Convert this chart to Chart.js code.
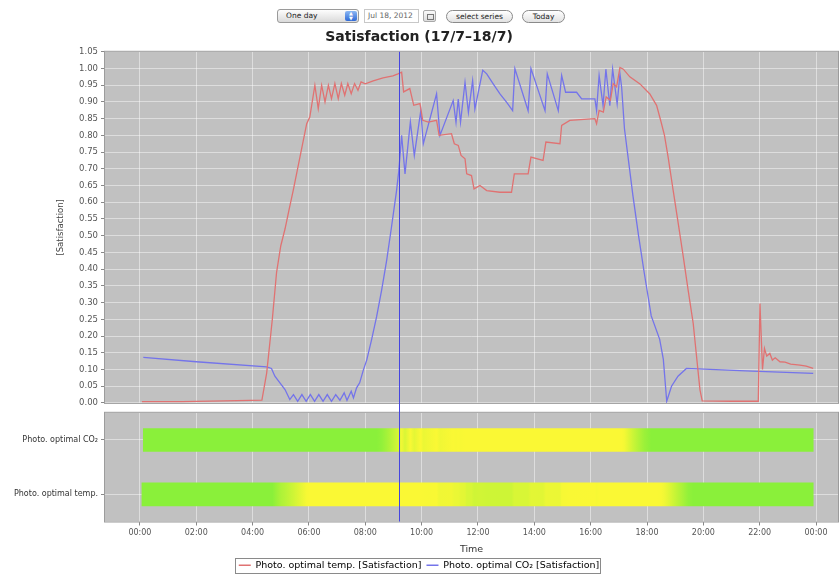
<!DOCTYPE html>
<html>
<head>
<meta charset="utf-8">
<script src="https://cdn.jsdelivr.net/npm/chart.js@4.4.0/dist/chart.umd.min.js"></script>
<style>
  body { margin: 0; width: 839px; height: 575px; overflow: hidden; position: relative; background: #fff; font-family: "DejaVu Sans", sans-serif; }
  .ctl { position: absolute; top: 9px; height: 14px; box-sizing: border-box; font-size: 7.5px; line-height: 12px; color: #222; }
  .sel { left: 277px; width: 82px; border: 1px solid #9a9a9a; border-radius: 3px; background: linear-gradient(#fdfdfd, #dadada); padding-left: 8px; }
  .sel .arr { position: absolute; right: 1px; top: 1px; width: 12px; height: 10px; border-radius: 2px; background: linear-gradient(#8cb8f4, #2f6ad6); color: #fff; font-size: 5px; line-height: 5px; text-align: center; }
  .date { left: 364px; width: 55px; border: 1px solid #c8c8c8; color: #666; padding-left: 3px; }
  .cal { left: 423px; width: 13px; top: 10px; height: 12px; border: 1px solid #a8a8a8; border-radius: 2px; background: linear-gradient(#fafafa, #dcdcdc); }
  .cal i { position: absolute; left: 3px; top: 3px; width: 5px; height: 4px; border: 1px solid #777; }
  .pill { border: 1px solid #8a8a8a; border-radius: 7px; background: linear-gradient(#ffffff, #e2e2e2); text-align: center; top: 10px; height: 13px; }
  #top { position: absolute; left: 0; top: 26px; }
  #bottom { position: absolute; left: 0; top: 405px; }
</style>
</head>
<body>
<div class="ctl sel">One day<span class="arr">▲<br>▼</span></div>
<div class="ctl date">Jul 18, 2012</div>
<div class="ctl cal"><i></i></div>
<div class="ctl pill" style="left:446px;width:67px">select series</div>
<div class="ctl pill" style="left:522px;width:43px">Today</div>
<canvas id="top" width="839" height="385"></canvas>
<canvas id="bottom" width="839" height="175"></canvas>
<script>
// ---------- data (hours of the day / satisfaction 0..1) ----------
var tempTimes = [0.07, 1.5, 3.0, 4.33, 4.5, 4.7, 4.85, 5.0, 5.15, 5.3, 5.44, 5.68, 5.92, 6.03,
  6.21, 6.33, 6.45, 6.57, 6.69, 6.8, 6.92, 7.04, 7.15, 7.27, 7.38, 7.5, 7.62, 7.74, 7.85,
  8.0, 8.28, 8.63, 8.98, 9.16, 9.29, 9.36, 9.58, 9.72, 9.94, 10.04, 10.24, 10.53, 10.62,
  11.06, 11.16, 11.3, 11.4, 11.54, 11.6, 11.77, 11.86, 12.07, 12.31, 12.78, 13.19, 13.29,
  13.78, 13.88, 14.31, 14.41, 14.91, 14.97, 15.26, 16.15, 16.21, 16.3, 16.45, 16.55, 16.7,
  16.8, 16.92, 17.04, 17.16, 17.39, 17.75, 18.1, 18.34, 18.5, 18.62, 18.75, 18.93, 19.11,
  19.29, 19.46, 19.64, 19.76, 19.88, 19.96, 21.0, 21.95, 22.01, 22.1, 22.17, 22.25, 22.36,
  22.45, 22.55, 22.72, 22.9, 23.1, 23.43, 23.65, 23.9];
var tempValues = [0.004, 0.004, 0.006, 0.008, 0.09, 0.25, 0.39, 0.47, 0.52, 0.58, 0.635, 0.735, 0.835, 0.855,
  0.95, 0.88, 0.95, 0.90, 0.95, 0.91, 0.955, 0.91, 0.955, 0.92, 0.955, 0.925, 0.955, 0.935, 0.96,
  0.954, 0.963, 0.972, 0.978, 0.984, 0.989, 0.93, 0.94, 0.89, 0.895, 0.845, 0.84, 0.845, 0.80,
  0.805, 0.775, 0.77, 0.74, 0.73, 0.685, 0.68, 0.64, 0.65, 0.635, 0.63, 0.63, 0.685,
  0.685, 0.735, 0.725, 0.78, 0.775, 0.83, 0.845, 0.85, 0.835, 0.875, 0.87, 0.915, 0.905,
  0.955, 0.945, 1.003, 0.998, 0.975, 0.954, 0.924, 0.89, 0.84, 0.80, 0.735, 0.635, 0.536,
  0.436, 0.337, 0.238, 0.138, 0.039, 0.006, 0.005, 0.005, 0.297, 0.10, 0.163, 0.14, 0.148,
  0.128, 0.135, 0.123, 0.122, 0.116, 0.113, 0.11, 0.103];

var co2Times = [0.12, 2.0, 4.5, 4.67, 4.79, 4.97, 5.15, 5.32, 5.45, 5.6, 5.75, 5.9, 6.05, 6.2,
  6.35, 6.5, 6.65, 6.8, 6.95, 7.1, 7.25, 7.35, 7.5, 7.58, 7.69, 7.8, 7.93, 8.05, 8.22, 8.4,
  8.58, 8.76, 8.93, 9.11, 9.19, 9.29, 9.41, 9.6, 9.74, 9.97, 10.06, 10.53, 10.65, 11.12,
  11.22, 11.3, 11.38, 11.54, 11.66, 11.81, 11.89, 12.17, 12.31, 12.54, 12.78, 13.02, 13.23,
  13.31, 13.78, 13.88, 14.38, 14.46, 14.85, 14.97, 15.11, 15.5, 15.68, 16.15, 16.21, 16.3,
  16.44, 16.54, 16.68, 16.78, 16.94, 17.04, 17.1, 17.2, 17.35, 17.5, 17.7, 17.9, 18.15,
  18.45, 18.58, 18.7, 18.87, 19.1, 19.4, 21.5, 23.9];
var co2Values = [0.136, 0.123, 0.108, 0.103, 0.08, 0.06, 0.04, 0.01, 0.025, 0.005, 0.025, 0.005, 0.025, 0.005,
  0.025, 0.005, 0.025, 0.005, 0.025, 0.008, 0.03, 0.008, 0.035, 0.015, 0.045, 0.06, 0.098, 0.128, 0.188, 0.257,
  0.337, 0.427, 0.526, 0.635, 0.695, 0.80, 0.685, 0.84, 0.74, 0.874, 0.775, 0.924, 0.80, 0.904,
  0.839, 0.909, 0.839, 0.959, 0.869, 0.964, 0.879, 0.995, 0.984, 0.954, 0.924, 0.899, 0.874,
  1.0, 0.874, 1.0, 0.874, 0.984, 0.874, 0.979, 0.929, 0.929, 0.909, 0.909, 0.874, 0.979,
  0.889, 0.998, 0.889, 0.998, 0.894, 0.984, 0.944, 0.82, 0.72, 0.62, 0.50, 0.39, 0.26,
  0.19, 0.13, 0.005, 0.05, 0.08, 0.103, 0.096, 0.088];

var tempLabel = 'Photo. optimal temp. [Satisfaction]';
var co2Label = 'Photo. optimal CO\u2082 [Satisfaction]';
var rowLabels = ['Photo. optimal CO\u2082', 'Photo. optimal temp.'];

var hourTicks = [0, 2, 4, 6, 8, 10, 12, 14, 16, 18, 20, 22, 24];
var hourLabels = ['00:00', '02:00', '04:00', '06:00', '08:00', '10:00', '12:00', '14:00', '16:00', '18:00', '20:00', '22:00', '00:00'];
var satTicks = [0, 0.05, 0.1, 0.15, 0.2, 0.25, 0.3, 0.35, 0.4, 0.45, 0.5, 0.55, 0.6, 0.65, 0.7, 0.75, 0.8, 0.85, 0.9, 0.95, 1.0, 1.05];
var markerHour = 9.2;

// ---------- look ----------
var xMin = -1.24, xMax = 24.78;
var redLine = '#e07272', blueLine = '#7474ea', markerColor = '#4646e0';
var panelBg = '#c1c1c1', gridCol = 'rgba(255,255,255,0.45)', frameCol = '#9c9c9c';
var green = [138, 240, 58], yellow = [250, 248, 52];

Chart.defaults.font.family = "'DejaVu Sans', sans-serif";
Chart.defaults.animation = false;

function toPoints(ts, vs) { return ts.map(function (t, i) { return { x: t, y: vs[i] }; }); }

function satColor(v) {
  var f = Math.max(0, Math.min(1, (v - 0.3) / 0.55));
  var c = green.map(function (g, i) { return Math.round(g + (yellow[i] - g) * f); });
  return 'rgb(' + c.join(',') + ')';
}

var panel = {
  id: 'panel',
  beforeDraw: function (chart) {
    var a = chart.chartArea, c = chart.ctx;
    c.save(); c.fillStyle = panelBg; c.fillRect(a.left, a.top, a.width, a.height); c.restore();
  },
  afterDraw: function (chart, args, opts) {
    var a = chart.chartArea, c = chart.ctx;
    c.save();
    c.strokeStyle = frameCol; c.lineWidth = 1;
    c.strokeRect(a.left - 0.5, a.top - 0.5, a.width + 1, a.height + 1);
    var x = Math.round(chart.scales.x.getPixelForValue(markerHour)) + 0.5;
    c.strokeStyle = markerColor;
    c.beginPath();
    c.moveTo(x, opts.fromTop ? a.top : 0);
    c.lineTo(x, opts.fromTop ? chart.height : a.bottom);
    c.stroke();
    c.restore();
  }
};

function hourAxis(showLabels) {
  return {
    type: 'linear', min: xMin, max: xMax,
    afterBuildTicks: function (s) { s.ticks = hourTicks.map(function (v) { return { value: v }; }); },
    ticks: {
      display: showLabels, maxRotation: 0, autoSkip: false, padding: 3,
      color: '#555', font: { size: 8 },
      callback: function (v, i) { return hourLabels[i]; }
    },
    grid: { color: gridCol, drawTicks: showLabels, tickLength: 4, tickColor: '#888' },
    border: { display: false },
    title: { display: showLabels, text: 'Time', color: '#333', font: { size: 9.5 }, padding: { top: 3, bottom: 0 } }
  };
}

// ---------- top panel: satisfaction lines ----------
new Chart(document.getElementById('top'), {
  type: 'line',
  data: {
    datasets: [
      { label: tempLabel, data: toPoints(tempTimes, tempValues), borderColor: redLine, borderWidth: 1.3, pointRadius: 0, tension: 0 },
      { label: co2Label, data: toPoints(co2Times, co2Values), borderColor: blueLine, borderWidth: 1.3, pointRadius: 0, tension: 0 }
    ]
  },
  options: {
    responsive: false,
    layout: { padding: { left: 0, right: 1, top: 0, bottom: 5 } },
    scales: {
      x: hourAxis(false),
      y: {
        min: 0, max: 1.05,
        afterBuildTicks: function (s) { s.ticks = satTicks.map(function (v) { return { value: v }; }); },
        afterFit: function (s) { s.width = 105; },
        ticks: { color: '#555', font: { size: 8.5 }, padding: 3, callback: function (v) { return v.toFixed(2); } },
        grid: { color: gridCol, tickLength: 4, tickColor: '#888' },
        border: { display: false },
        title: { display: true, text: '[Satisfaction]', color: '#444', font: { size: 8.5 }, padding: { top: 56, bottom: 0 } }
      }
    },
    plugins: {
      legend: { display: false },
      tooltip: { enabled: false },
      title: { display: true, text: 'Satisfaction (17/7\u201318/7)', color: '#222', font: { size: 14, weight: 'bold' }, padding: { top: 3, bottom: 6 } },
      panel: { fromTop: true }
    }
  },
  plugins: [panel]
});

// ---------- bottom panel: colour strips ----------
function stripGradient(context) {
  var chart = context.chart, area = chart.chartArea;
  if (!area) return satColor(0);
  var ts = context.dataIndex === 0 ? co2Times : tempTimes;
  var vs = context.dataIndex === 0 ? co2Values : tempValues;
  var sx = chart.scales.x;
  var x0 = sx.getPixelForValue(ts[0]), x1 = sx.getPixelForValue(ts[ts.length - 1]);
  var g = chart.ctx.createLinearGradient(x0, 0, x1, 0);
  ts.forEach(function (t, i) {
    var off = (sx.getPixelForValue(t) - x0) / (x1 - x0);
    g.addColorStop(Math.max(0, Math.min(1, off)), satColor(vs[i]));
  });
  return g;
}

var legendBox = {
  id: 'legendBox',
  afterDraw: function (chart) {
    var hb = chart.legend && chart.legend.legendHitBoxes;
    if (!hb || !hb.length) return;
    var l = Math.min.apply(null, hb.map(function (h) { return h.left; })) - 4;
    var r = Math.max.apply(null, hb.map(function (h) { return h.left + h.width; })) + 1;
    var t = hb[0].top - 3, b = hb[0].top + hb[0].height + 2;
    var c = chart.ctx;
    c.save(); c.strokeStyle = '#8a8a8a'; c.lineWidth = 1;
    c.strokeRect(Math.round(l) + 0.5, Math.round(t) + 0.5, Math.round(r - l), Math.round(b - t));
    c.restore();
  }
};

new Chart(document.getElementById('bottom'), {
  type: 'bar',
  data: {
    labels: rowLabels,
    datasets: [{
      label: 'strip',
      data: [[co2Times[0], co2Times[co2Times.length - 1]], [tempTimes[0], tempTimes[tempTimes.length - 1]]],
      backgroundColor: stripGradient,
      borderWidth: 0,
      barThickness: 23
    }]
  },
  options: {
    responsive: false,
    indexAxis: 'y',
    layout: { padding: { left: 0, right: 1, top: 4, bottom: 0 } },
    scales: {
      x: hourAxis(true),
      y: {
        type: 'category', offset: true,
        afterFit: function (s) { s.width = 105; },
        ticks: { color: '#333', font: { size: 8 }, padding: 3 },
        grid: { offset: false, color: gridCol, tickLength: 4, tickColor: '#888' },
        border: { display: false }
      }
    },
    plugins: {
      legend: {
        position: 'bottom',
        onClick: null,
        labels: {
          usePointStyle: true, pointStyleWidth: 12, boxHeight: 8, padding: 5,
          color: '#333', font: { size: 9.5 },
          generateLabels: function () {
            return [
              { text: tempLabel, strokeStyle: redLine, fillStyle: redLine, lineWidth: 1.3, pointStyle: 'line', hidden: false, datasetIndex: 0 },
              { text: co2Label, strokeStyle: blueLine, fillStyle: blueLine, lineWidth: 1.3, pointStyle: 'line', hidden: false, datasetIndex: 0 }
            ];
          }
        }
      },
      tooltip: { enabled: false },
      panel: { fromTop: false }
    }
  },
  plugins: [panel, legendBox]
});
</script>
</body>
</html>
